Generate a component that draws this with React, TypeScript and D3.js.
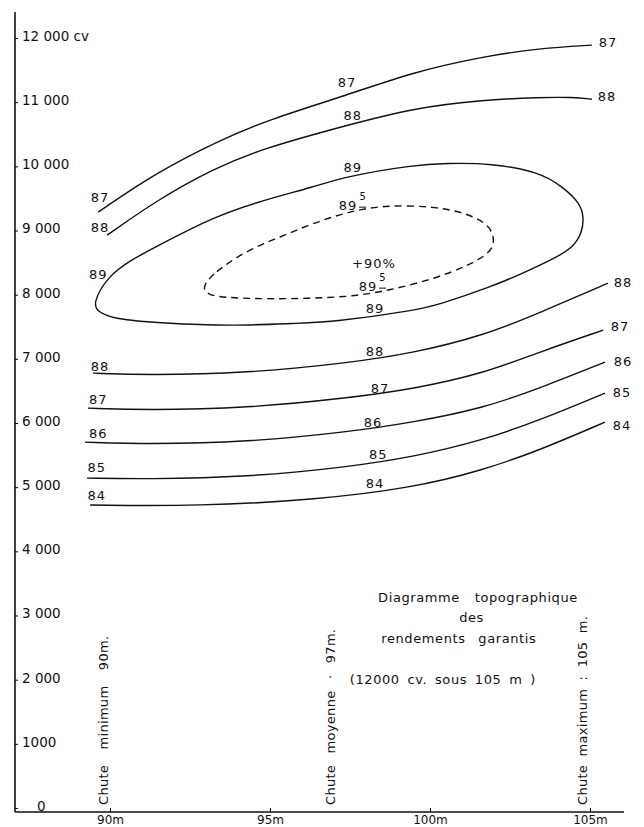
import React, { useRef, useEffect } from 'react';
import * as d3 from 'd3';

type Pt = [number, number]; // [chute (m), puissance (cv)]

// iso-efficiency contours
const upper87: Pt[] = [
  [89.63, 9287], [91.47, 9910], [93.44, 10408], [94.91, 10720], [97.41, 11110],
  [99.47, 11467], [101.56, 11702], [103.44, 11842], [105.06, 11889],
];
const upper88: Pt[] = [
  [89.91, 8927], [91.47, 9473], [93.22, 9960], [94.78, 10280], [97.41, 10641],
  [99.47, 10906], [101.56, 11031], [103.44, 11077], [104.47, 11077], [105.06, 11046],
];
const loop89: Pt[] = [
  [89.47, 7868], [89.91, 8273], [90.63, 8538], [91.66, 8803], [93.22, 9208],
  [94.78, 9473], [96.34, 9675], [97.41, 9847], [99.47, 10018], [100.53, 10049],
  [101.88, 10049], [103.44, 9909], [104.16, 9675], [104.69, 9426], [104.81, 9208],
  [104.75, 8959], [104.47, 8740], [103.97, 8585], [102.91, 8335], [101.88, 8117],
  [100.31, 7852], [99.59, 7759], [96.97, 7572], [95.84, 7556], [93.75, 7510],
  [91.66, 7556], [90.09, 7620], [89.6, 7740],
];
const loop895: Pt[] = [
  [92.88, 8117], [93.22, 8335], [94.28, 8694], [95.31, 8896], [96.34, 9114],
  [97.41, 9286], [98.53, 9395], [100.09, 9379], [101.16, 9270], [101.88, 9083],
  [102.03, 8834], [101.88, 8647], [101.16, 8444], [100.09, 8242], [98.75, 8070],
  [97.5, 7961], [95.41, 7930], [93.75, 7946], [93.03, 7993],
];
const lower88: Pt[] = [
  [89.47, 6777], [91.16, 6746], [94.28, 6777], [97.41, 6933], [99.47, 7089],
  [101.66, 7360], [103.44, 7720], [105.56, 8180],
];
const lower87: Pt[] = [
  [89.31, 6232], [91.16, 6201], [94.28, 6232], [97.41, 6388], [99.47, 6530],
  [101.66, 6770], [103.44, 7110], [105.41, 7447],
];
const lower86: Pt[] = [
  [89.22, 5702], [91.16, 5671], [94.28, 5702], [97.41, 5858], [99.47, 6010],
  [101.66, 6230], [103.44, 6544], [105.47, 6949],
];
const lower85: Pt[] = [
  [89.28, 5141], [91.16, 5126], [94.28, 5157], [97.41, 5313], [99.47, 5470],
  [101.66, 5733], [103.44, 6045], [105.47, 6466],
];
const lower84: Pt[] = [
  [89.38, 4721], [92.81, 4705], [96.34, 4799], [99.47, 4990],
  [101.66, 5266], [103.44, 5578], [105.47, 6014],
];

const openCurves = [upper87, upper88, lower88, lower87, lower86, lower85, lower84];

const contourLabels: { t: string; m: number; cv: number }[] = [
  { t: '87', m: 105.56, cv: 11934 }, { t: '88', m: 105.53, cv: 11093 },
  { t: '88', m: 106.03, cv: 8195 }, { t: '87', m: 105.94, cv: 7510 },
  { t: '86', m: 106.03, cv: 6964 }, { t: '85', m: 106.0, cv: 6481 },
  { t: '84', m: 106.0, cv: 5967 },
  { t: '87', m: 89.69, cv: 9519 }, { t: '88', m: 89.69, cv: 9052 },
  { t: '89', m: 89.63, cv: 8320 }, { t: '88', m: 89.69, cv: 6886 },
  { t: '87', m: 89.63, cv: 6372 }, { t: '86', m: 89.63, cv: 5843 },
  { t: '85', m: 89.59, cv: 5313 }, { t: '84', m: 89.59, cv: 4877 },
  { t: '87', m: 97.41, cv: 11311 }, { t: '88', m: 97.59, cv: 10797 },
  { t: '89', m: 97.59, cv: 9987 }, { t: '89', m: 98.28, cv: 7790 },
  { t: '88', m: 98.28, cv: 7120 }, { t: '87', m: 98.44, cv: 6544 },
  { t: '86', m: 98.22, cv: 6014 }, { t: '85', m: 98.38, cv: 5515 },
  { t: '84', m: 98.28, cv: 5064 },
];
const halfLabels: Pt[] = [[97.44, 9395], [98.06, 8133]]; // 89,5
const peak = { t: '+90%', m: 98.25, cv: 8480 };

const yTicks = [12000, 11000, 10000, 9000, 8000, 7000, 6000, 5000, 4000, 3000, 2000, 1000, 0];
const yTickLabels = ['12 000 cv', '11 000', '10 000', '9 000', '8 000', '7 000', '6 000',
  '5 000', '4 000', '3 000', '2 000', '1000', '0'];
const xTicks = [90, 95, 100, 105];
const xTickLabels = ['90m', '95m', '100m', '105m'];

const chutes = [
  { m: 89.8, t: 'Chute minimum 90m.', ws: 11 },
  { m: 96.9, t: 'Chute moyenne · 97m.', ws: 7 },
  { m: 104.75, t: 'Chute maximum : 105 m.', ws: 4 },
];
const titleLines = [
  { t: 'Diagramme topographique', m: 101.5, ws: 10 },
  { t: 'des', m: 101.3, ws: 0 },
  { t: 'rendements garantis', m: 100.9, ws: 8 },
  { t: '(12000 cv. sous 105 m )', m: 100.4, ws: 3 },
];
const titleRows = [0, 1, 2, 4];

const W = 644;
const H = 827;
const FONT = 'DejaVu Sans, sans-serif';

const App: React.FC = () => {
  const svgRef = useRef<SVGSVGElement | null>(null);

  useEffect(() => {
    if (!svgRef.current) return;
    const svg = d3.select(svgRef.current);
    svg.selectAll('*').remove();

    const x = d3.scaleLinear().domain([90, 105]).range([110, 590]);
    const y = d3.scaleLinear().domain([0, 12000]).range([808, 38]);
    const axisX0 = 15;
    const axisY0 = 812;

    svg.append('rect').attr('width', W).attr('height', H).attr('fill', '#fff');

    // frame lines
    svg.append('line').attr('x1', axisX0).attr('x2', axisX0).attr('y1', 12).attr('y2', axisY0)
      .attr('stroke', '#111').attr('stroke-width', 1.6);
    svg.append('line').attr('x1', axisX0).attr('x2', 624).attr('y1', axisY0).attr('y2', axisY0)
      .attr('stroke', '#111').attr('stroke-width', 1.6);

    // y axis
    const yAxis = d3.axisRight(y).tickValues(yTicks).tickSize(3).tickPadding(4)
      .tickFormat((_d, i) => yTickLabels[i]);
    const gy = svg.append('g').attr('transform', `translate(${axisX0},0)`).call(yAxis);
    gy.select('.domain').remove();
    gy.selectAll('text').attr('font-family', FONT).attr('font-size', 13.5)
      .attr('fill', '#111').attr('dy', '0.18em');
    gy.selectAll<SVGTextElement, number>('text').filter(d => d === 0).attr('x', 22);

    // x axis
    const xAxis = d3.axisBottom(x).tickValues(xTicks).tickSize(-4).tickPadding(3)
      .tickFormat((_d, i) => xTickLabels[i]);
    const gx = svg.append('g').attr('transform', `translate(0,${axisY0})`).call(xAxis);
    gx.select('.domain').remove();
    gx.selectAll('text').attr('font-family', FONT).attr('font-size', 12).attr('fill', '#111');

    const line = d3.line<Pt>().x(d => x(d[0])).y(d => y(d[1])).curve(d3.curveBasis);
    const loop = d3.line<Pt>().x(d => x(d[0])).y(d => y(d[1])).curve(d3.curveBasisClosed);

    const g = svg.append('g').attr('fill', 'none').attr('stroke', '#111').attr('stroke-width', 1.4);
    openCurves.forEach(c => g.append('path').attr('d', line(c)));
    g.append('path').attr('d', loop(loop89));
    g.append('path').attr('d', loop(loop895)).attr('stroke-dasharray', '7,5');

    // labels
    const lab = svg.append('g').attr('font-family', FONT).attr('font-size', 13).attr('fill', '#111')
      .attr('text-anchor', 'middle').attr('letter-spacing', 1);
    contourLabels.forEach(l => {
      lab.append('text').attr('x', x(l.m)).attr('y', y(l.cv)).attr('dy', '0.35em').text(l.t);
    });
    halfLabels.forEach(([m, cv]) => {
      lab.append('text').attr('x', x(m)).attr('y', y(cv)).attr('dy', '0.35em').text('89');
      lab.append('text').attr('x', x(m) + 15).attr('y', y(cv) - 5).attr('font-size', 10).text('5');
      lab.append('line').attr('x1', x(m) + 11).attr('x2', x(m) + 18)
        .attr('y1', y(cv) + 2).attr('y2', y(cv) + 2).attr('stroke', '#111').attr('stroke-width', 1);
    });
    lab.append('text').attr('x', x(peak.m)).attr('y', y(peak.cv)).attr('dy', '0.35em').text(peak.t);

    // vertical "Chute" notes
    chutes.forEach(c => {
      svg.append('text')
        .attr('transform', `translate(${x(c.m)},805) rotate(-90)`)
        .attr('font-family', FONT).attr('font-size', 13).attr('fill', '#111')
        .attr('dy', '0.35em').attr('word-spacing', c.ws).attr('letter-spacing', 0.3)
        .text(c.t);
    });

    // title block
    const tb = svg.append('g').attr('font-family', FONT).attr('font-size', 13).attr('fill', '#111')
      .attr('text-anchor', 'middle').attr('letter-spacing', 0.6);
    titleLines.forEach((l, i) => {
      tb.append('text').attr('x', x(l.m)).attr('y', 597 + titleRows[i] * 20.5)
        .attr('dy', '0.35em').attr('word-spacing', l.ws).text(l.t);
    });
  }, []);

  return (
    <svg ref={svgRef} width={W} height={H}
      style={{ position: 'absolute', left: 0, top: 0, background: '#fff' }} />
  );
};

export default App;
